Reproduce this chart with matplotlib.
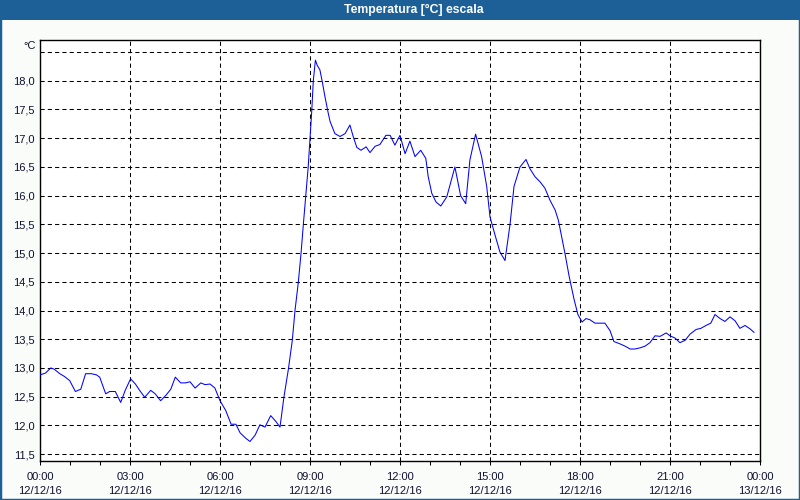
import matplotlib
matplotlib.use("Agg")
import matplotlib.pyplot as plt
from matplotlib.patches import Rectangle
import numpy as np

# ---- data ----
hours = [
    0.00, 0.18, 0.36, 0.47, 0.66, 0.82, 0.99, 1.18, 1.36, 1.52, 1.71, 1.88, 1.99,
    2.19, 2.32, 2.51, 2.69, 2.84, 3.02, 3.18, 3.32, 3.49, 3.69, 3.84, 4.02, 4.19,
    4.36, 4.51, 4.58, 4.69, 4.85, 5.00, 5.17, 5.36, 5.50, 5.67, 5.83, 6.00, 6.19,
    6.37, 6.53, 6.67, 6.87, 7.00, 7.17, 7.33, 7.50, 7.69, 7.86, 8.00, 8.13, 8.28,
    8.41, 8.50, 8.61, 8.70, 8.78, 8.86, 8.94, 9.00, 9.06, 9.11, 9.18, 9.24, 9.33,
    9.41, 9.50, 9.61, 9.67, 9.83, 10.00, 10.17, 10.33, 10.44, 10.56, 10.70, 10.87,
    11.00, 11.17, 11.33, 11.53, 11.67, 11.83, 12.00, 12.17, 12.33, 12.50, 12.69,
    12.86, 12.94, 13.06, 13.20, 13.36, 13.56, 13.83, 14.02, 14.19, 14.33, 14.52,
    14.72, 14.89, 15.00, 15.17, 15.33, 15.50, 15.67, 15.80, 16.00, 16.20, 16.33,
    16.50, 16.67, 16.83, 17.00, 17.17, 17.28, 17.39, 17.50, 17.64, 17.80, 17.93,
    18.07, 18.20, 18.33, 18.50, 18.83, 19.00, 19.13, 19.33, 19.50, 19.67, 19.83,
    20.00, 20.17, 20.33, 20.50, 20.67, 20.87, 21.00, 21.17, 21.33, 21.50, 21.67,
    21.87, 22.03, 22.20, 22.36, 22.50, 22.67, 22.83, 23.00, 23.17, 23.33, 23.50,
    23.67, 23.80,
]
temps = [
    12.88, 12.91, 13.00, 12.98, 12.90, 12.85, 12.78, 12.59, 12.63, 12.90, 12.90, 12.88, 12.84,
    12.55, 12.59, 12.59, 12.40, 12.61, 12.81, 12.72, 12.61, 12.49, 12.61, 12.55, 12.43, 12.52,
    12.63, 12.84, 12.80, 12.74, 12.74, 12.76, 12.65, 12.74, 12.71, 12.72, 12.65, 12.43, 12.26,
    12.02, 12.02, 11.87, 11.77, 11.72, 11.83, 12.01, 11.97, 12.17, 12.07, 11.97, 12.49, 12.98,
    13.48, 14.00, 14.49, 14.99, 15.51, 16.00, 16.50, 16.99, 17.49, 18.00, 18.36, 18.27, 18.19,
    17.98, 17.72, 17.43, 17.29, 17.08, 17.03, 17.08, 17.23, 17.03, 16.84, 16.79, 16.85,
    16.75, 16.86, 16.89, 17.05, 17.05, 16.88, 17.05, 16.73, 16.95, 16.68, 16.79,
    16.65, 16.33, 16.04, 15.89, 15.82, 15.98, 16.50, 16.00, 15.86, 16.62, 17.07,
    16.68, 16.16, 15.63, 15.31, 15.02, 14.87, 15.51, 16.16, 16.50, 16.63, 16.47,
    16.33, 16.24, 16.13, 15.92, 15.75, 15.57, 15.28, 14.99, 14.59, 14.20, 13.93,
    13.80, 13.86, 13.84, 13.78, 13.78, 13.65, 13.46, 13.42, 13.38, 13.33, 13.33,
    13.35, 13.38, 13.44, 13.56, 13.55, 13.61, 13.56, 13.52, 13.44, 13.48, 13.59,
    13.67, 13.69, 13.74, 13.78, 13.93, 13.86, 13.81, 13.89, 13.82, 13.69, 13.74,
    13.68, 13.62,
]
x_tick_hours = [0, 3, 6, 9, 12, 15, 18, 21, 24]
x_tick_labels = ["00:00\n12/12/16", "03:00\n12/12/16", "06:00\n12/12/16",
                 "09:00\n12/12/16", "12:00\n12/12/16", "15:00\n12/12/16",
                 "18:00\n12/12/16", "21:00\n12/12/16", "00:00\n13/12/16"]
y_ticks = [11.5, 12.0, 12.5, 13.0, 13.5, 14.0, 14.5, 15.0, 15.5, 16.0, 16.5, 17.0, 17.5, 18.0, 18.5]
y_tick_labels = ["11,5", "12,0", "12,5", "13,0", "13,5", "14,0", "14,5", "15,0",
                 "15,5", "16,0", "16,5", "17,0", "17,5", "18,0", ""]
title = "Temperatura [°C] escala"
unit = "°C"

# ---- styling ----
plt.rcParams['font.family'] = ['Liberation Sans', 'DejaVu Sans']
txt_color = '#101030'
bar_color = '#1d6097'

fig = plt.figure(figsize=(8, 5), dpi=100, facecolor='#fafcfa')
W, H = 800, 500

# outer blue border and title bar
fig.patches.append(Rectangle((0, 0), 1, 1, transform=fig.transFigure, fill=False,
                             edgecolor=bar_color, linewidth=2.5, zorder=0))
fig.patches.append(Rectangle((0, 1 - 20 / H), 1, 20 / H, transform=fig.transFigure,
                             facecolor=bar_color, edgecolor='none', zorder=1))
fig.text(414 / W, 1 - 10 / H, title, color='white', fontsize=8.8, fontweight='bold',
         ha='center', va='center')

ax = fig.add_axes([40 / W, 1 - 461 / H, 720 / W, 421 / H])
ax.set_facecolor('white')
ax.plot(hours, temps, color='#0000ff', linewidth=0.75, zorder=3)

ax.set_xlim(0, 24)
ax.set_ylim(11.38, 18.71)

ax.set_xticks(x_tick_hours)
ax.set_xticklabels(x_tick_labels, fontsize=8, color=txt_color, linespacing=1.45)
ax.set_xticks(list(range(0, 25)), minor=True)
ax.tick_params(axis='x', which='both', direction='out', length=3, width=0.75,
               color='black', pad=5)

ax.set_yticks(y_ticks)
ax.set_yticklabels(y_tick_labels, fontsize=8, color=txt_color)
ax.tick_params(axis='y', which='both', length=0, pad=4)
ax.text(-0.006, 18.6, unit, transform=ax.get_yaxis_transform(), ha='right',
        va='center', fontsize=8, color=txt_color)

ax.grid(True, which='major', color='black', linestyle=(0, (4, 3)), linewidth=0.75)
for s in ax.spines.values():
    s.set_color('black')
    s.set_linewidth(1.0)

fig.savefig('out.png', dpi=100, facecolor=fig.get_facecolor())
